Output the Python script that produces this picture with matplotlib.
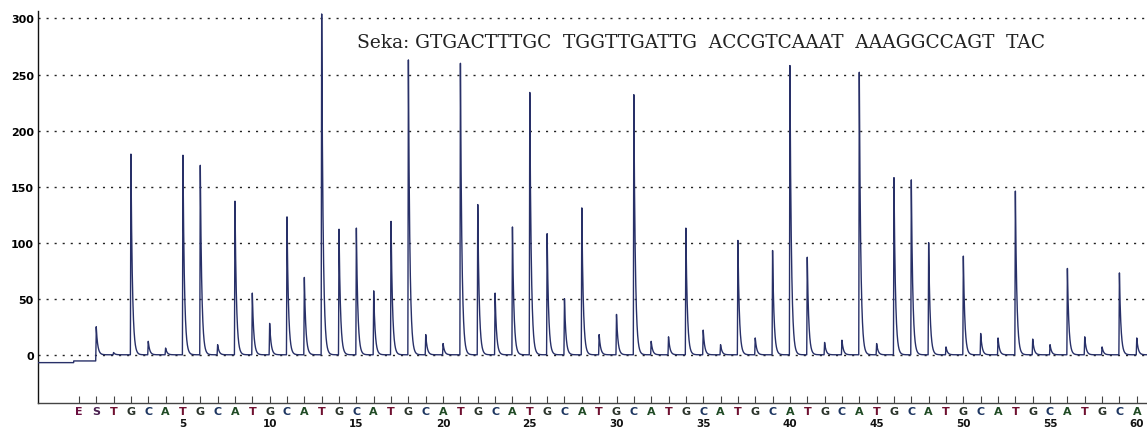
import numpy as np
import matplotlib
matplotlib.use("Agg")
import matplotlib.pyplot as plt
import matplotlib.transforms as mtransforms

# dispensation order: E, S, then TGCA repeated (positions 1..60)
disp_pos = list(range(-1, 61))
disp_labels = ["E", "S"] + ["TGCA"[(p - 1) % 4] for p in range(1, 61)]

# peak heights, E (-1), S (0), then positions 1..60
peak_heights = [
    0, 25,
    2, 179, 12, 6, 178, 169, 9, 137, 55, 28,
    123, 69, 304, 112, 113, 57, 119, 263, 18, 10,
    260, 134, 55, 114, 234, 108, 50, 131, 18, 36,
    232, 12, 16, 113, 22, 9, 102, 15, 93, 258,
    87, 11, 13, 252, 10, 158, 156, 100, 7, 88,
    19, 15, 146, 14, 9, 77, 16, 7, 73, 15,
]

# baseline offset before the substrate is added
baseline_edges = [-1.3, 0.0]
baseline_levels = [-7.0, -5.5, 0.0]

sequence = "Seka: GTGACTTTGC  TGGTTGATTG  ACCGTCAAAT  AAAGGCCAGT  TAC"
number_ticks = list(range(5, 61, 5))
y_ticks = list(range(0, 301, 50))

letter_colors = {"E": "#6a1040", "S": "#4a2050", "T": "#6e1030",
                 "G": "#2a332a", "C": "#1d3560", "A": "#1f4a24"}

# ---- build trace ----
x = np.arange(-3.4, 60.6, 0.004)
x = np.unique(np.concatenate([x, np.array(disp_pos, dtype=float)]))
base = np.where(x < baseline_edges[0], baseline_levels[0],
                np.where(x < baseline_edges[1], baseline_levels[1], baseline_levels[2]))
y = base.copy()
rise, tau = 0.03, 0.085
for p, h in zip(disp_pos, peak_heights):
    dx = x - p
    rising = (dx >= -rise) & (dx < 0)
    y[rising] += h * (dx[rising] + rise) / rise
    falling = dx >= 0
    y[falling] += h * np.exp(-dx[falling] / tau)

fig = plt.figure(figsize=(11.47, 4.35), dpi=100)
ax = fig.add_axes([0.0331, 0.0713, 0.9669, 0.9007])

for yt in y_ticks:
    ax.axhline(yt, color="#222222", lw=1.0, ls=(0, (1.5, 4.3)), zorder=1)

ax.plot(x, y, color="#283068", lw=1.0, zorder=3)

ax.set_xlim(-3.36, 60.59)
ax.set_ylim(-43, 306.5)

for s in ["top", "right"]:
    ax.spines[s].set_visible(False)
ax.spines["left"].set_color("#111111")
ax.spines["bottom"].set_color("#444444")
ax.spines["left"].set_linewidth(1.0)
ax.spines["bottom"].set_linewidth(1.0)

ax.set_yticks(y_ticks)
ax.set_yticklabels([str(v) for v in y_ticks], fontsize=8, fontweight="bold")
ax.tick_params(axis="y", length=0, pad=3)

ax.set_xticks(disp_pos)
ax.set_xticklabels(disp_labels, fontsize=8, fontweight="bold")
ax.tick_params(axis="x", direction="in", length=5, width=0.8, color="#444444", pad=2)
for lab, txt in zip(ax.get_xticklabels(), disp_labels):
    lab.set_color(letter_colors[txt])

trans = mtransforms.blended_transform_factory(ax.transData, ax.transAxes)
for n in number_ticks:
    ax.text(n, -0.052, str(n), transform=trans, ha="center", va="center",
            fontsize=7.5, fontweight="bold", color="#111111", clip_on=False)

ax.text(357 / 1147, 1 - 43 / 435, sequence, transform=fig.transFigure,
        ha="left", va="center", fontsize=13.4, family="DejaVu Serif", color="#222222")

fig.savefig("out.png", dpi=100)
